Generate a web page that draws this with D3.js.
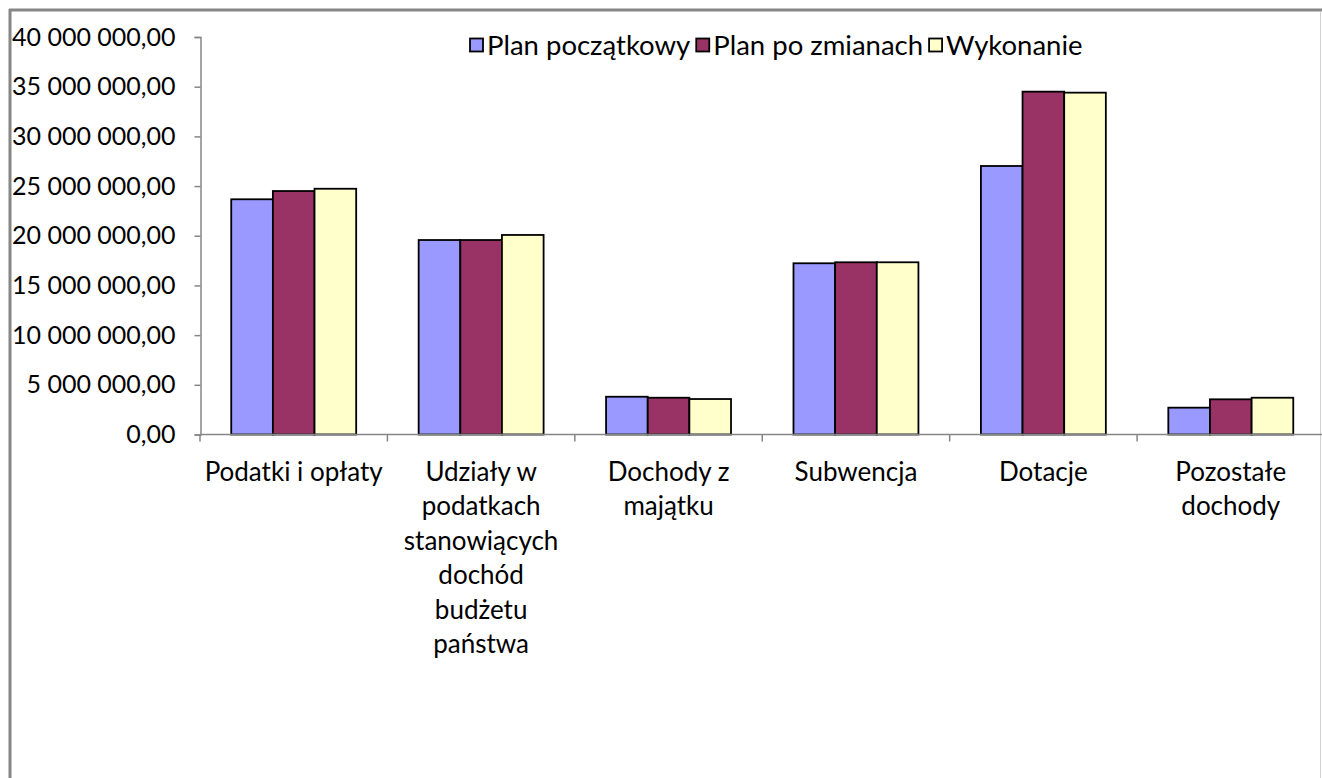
<!DOCTYPE html>
<html>
<head>
<meta charset="utf-8">
<script src="https://cdn.jsdelivr.net/npm/d3@7"></script>
<style>
  body { margin: 0; background: #fff; }
  svg text { font-family: Lato, "Open Sans", sans-serif; fill: #000; }
</style>
</head>
<body>
<svg id="chart" width="1322" height="778"></svg>
<script>
var categories = [
  'Podatki i opłaty',
  'Udziały w\npodatkach\nstanowiących\ndochód\nbudżetu\npaństwa',
  'Dochody z\nmajątku',
  'Subwencja',
  'Dotacje',
  'Pozostałe\ndochody'
];
var seriesNames = ['Plan początkowy', 'Plan po zmianach', 'Wykonanie'];
var seriesColors = ['#9999ff', '#993366', '#ffffcc'];

var planPoczatkowy = [23670000, 19570000, 3800000, 17230000, 27020000, 2700000];
var planPoZmianach = [24500000, 19570000, 3700000, 17330000, 34500000, 3540000];
var wykonanie      = [24730000, 20080000, 3570000, 17330000, 34400000, 3700000];

var yTicks = [0, 5e6, 10e6, 15e6, 20e6, 25e6, 30e6, 35e6, 40e6];

var series = [planPoczatkowy, planPoZmianach, wykonanie];

var svg = d3.select('#chart');
var FS_AXIS = 25, FS_CAT = 26, FS_LEG = 27.5;

// frame
svg.append('line').attr('x1', 10).attr('x2', 10).attr('y1', 9).attr('y2', 790)
  .attr('stroke', '#868686').attr('stroke-width', 3);
svg.append('line').attr('x1', 9).attr('x2', 1322).attr('y1', 10).attr('y2', 10)
  .attr('stroke', '#868686').attr('stroke-width', 3);
svg.append('line').attr('x1', 1320.5).attr('x2', 1320.5).attr('y1', 11).attr('y2', 790)
  .attr('stroke', '#d0d0d0').attr('stroke-width', 1);

var x0 = d3.scaleBand().domain(d3.range(categories.length)).range([200, 1324.5]).padding(0);
var barW = x0.bandwidth() / 4.5;
var y = d3.scaleLinear().domain([0, 40e6]).range([434.5, 37]);

var pl = d3.formatLocale({ decimal: ',', thousands: ' ', grouping: [3], currency: ['', ''] });
var fmt = pl.format(',.2f');

// y axis
var yAxis = svg.append('g').attr('transform', 'translate(200.5,0)')
  .call(d3.axisLeft(y).tickValues(yTicks).tickFormat(fmt).tickSize(6).tickPadding(19));
yAxis.select('.domain').attr('stroke', '#868686').attr('stroke-width', 1.5);
yAxis.selectAll('.tick line').attr('stroke', '#868686').attr('stroke-width', 1.5);
yAxis.selectAll('.tick text').style('font-size', FS_AXIS + 'px').attr('fill', '#000');

// bars
var groups = svg.append('g').selectAll('g').data(categories).join('g')
  .attr('transform', function (d, i) { return 'translate(' + (x0(i) + barW * 0.75) + ',0)'; });
groups.selectAll('rect')
  .data(function (d, i) { return series.map(function (s, k) { return { k: k, v: s[i] }; }); })
  .join('rect')
  .attr('x', function (d) { return d.k * barW; })
  .attr('width', barW)
  .attr('y', function (d) { return y(d.v); })
  .attr('height', function (d) { return y(0) - y(d.v); })
  .attr('fill', function (d) { return seriesColors[d.k]; })
  .attr('stroke', '#000').attr('stroke-width', 1.8);

// x axis
var xg = svg.append('g').attr('transform', 'translate(0,' + y(0) + ')');
xg.append('line').attr('x1', 200).attr('x2', 1322).attr('stroke', '#868686').attr('stroke-width', 1.5);
xg.selectAll('line.tk').data(d3.range(categories.length + 1)).join('line').attr('class', 'tk')
  .attr('x1', function (i) { return 200 + i * x0.step(); })
  .attr('x2', function (i) { return 200 + i * x0.step(); })
  .attr('y1', 0).attr('y2', 7).attr('stroke', '#868686').attr('stroke-width', 1.5);
var labels = xg.selectAll('text.cat').data(categories).join('text').attr('class', 'cat')
  .attr('text-anchor', 'middle').style('font-size', FS_CAT + 'px')
  .attr('transform', function (d, i) { return 'translate(' + (x0(i) + x0.bandwidth() / 2) + ',46)'; });
labels.selectAll('tspan').data(function (d) { return d.split('\n'); }).join('tspan')
  .attr('x', 0).attr('y', function (d, j) { return j * 34.5; }).text(function (d) { return d; });

// legend
var lx = 470;
var leg = svg.append('g').attr('transform', 'translate(0,45)');
seriesNames.forEach(function (name, k) {
  leg.append('rect').attr('x', lx).attr('y', -6.5).attr('width', 13).attr('height', 13)
    .attr('fill', seriesColors[k]).attr('stroke', '#000').attr('stroke-width', 1.8);
  var t = leg.append('text').attr('x', lx + 17).attr('y', 0).attr('dy', '0.35em')
    .style('font-size', FS_LEG + 'px').text(name);
  lx += 17 + t.node().getComputedTextLength() + 6;
});
</script>
</body>
</html>
